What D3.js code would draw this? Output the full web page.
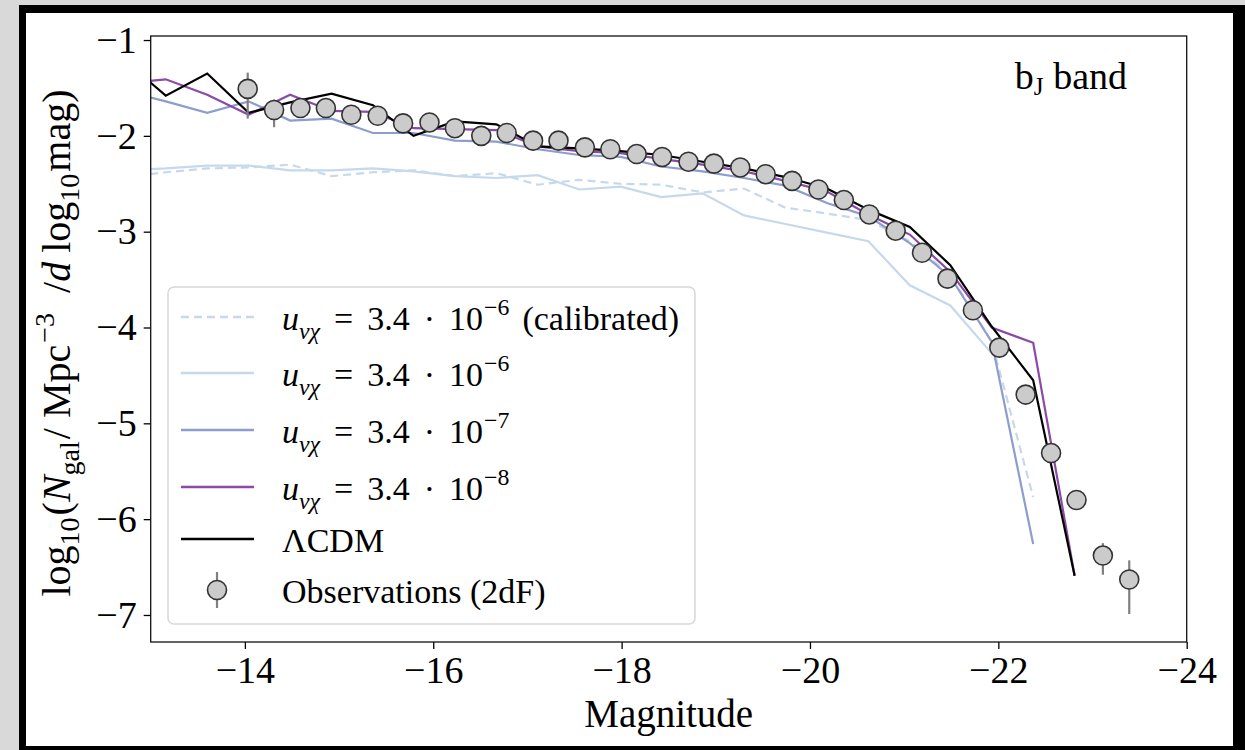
<!DOCTYPE html>
<html><head><meta charset="utf-8">
<script src="https://cdn.jsdelivr.net/npm/d3@7"></script>
<style>
body{margin:0;background:#d9d9d9;}
svg{display:block;}
text{font-family:"Liberation Serif","Times New Roman",serif;fill:#000;}
</style></head><body>
<svg id="chart" width="1245" height="750"></svg>
<script>
// ---- data ----
const modelMag = [-12.72, -13.16, -13.60, -14.04, -14.48, -14.92, -15.36, -15.79, -16.23, -16.67, -17.11, -17.55,
  -17.99, -18.42, -18.86, -19.30, -19.74, -20.18, -20.62, -21.06, -21.49, -21.93, -22.37, -22.81];
const lcdmVals = [-1.21, -1.58, -1.35, -1.76, -1.65, -1.56, -1.68, -2.00, -1.85, -1.88, -2.11, -2.13,
  -2.16, -2.20, -2.27, -2.34, -2.43, -2.55, -2.77, -2.95, -3.35, -3.99, -4.55, -6.59];
const u8Vals = [-1.45, -1.41, -1.57, -1.78, -1.57, -1.74, -1.75, -1.92, -1.93, -1.94, -2.11, -2.16,
  -2.18, -2.24, -2.30, -2.37, -2.47, -2.58, -2.82, -3.03, -3.42, -4.00, -4.16, -6.59];
const u7Vals = [-1.53, -1.64, -1.76, -1.64, -1.84, -1.82, -1.97, -1.97, -2.05, -2.06, -2.14, -2.20,
  -2.22, -2.32, -2.37, -2.44, -2.52, -2.70, -2.84, -3.12, -3.47, -4.15, -6.26];
const u6Vals = [-2.36, -2.34, -2.31, -2.31, -2.36, -2.36, -2.34, -2.37, -2.42, -2.44, -2.41, -2.56,
  -2.53, -2.64, -2.60, -2.83, -2.92, -3.01, -3.10, -3.56, -3.77, -4.27];
const u6CalVals = [-2.43, -2.38, -2.34, -2.33, -2.30, -2.42, -2.38, -2.36, -2.42, -2.39, -2.51, -2.46,
  -2.50, -2.51, -2.59, -2.55, -2.75, -2.81, -2.88, -3.10, -3.45, -4.15, -5.77];

const obsMag = [-14.03, -14.31, -14.59, -14.86, -15.13, -15.41, -15.68, -15.96, -16.23, -16.51, -16.78, -17.06,
  -17.33, -17.61, -17.88, -18.16, -18.43, -18.71, -18.98, -19.26, -19.53, -19.81, -20.09, -20.36, -20.63,
  -20.91, -21.19, -21.46, -21.73, -22.01, -22.29, -22.56, -22.83, -23.11, -23.39];
const obsVal = [-1.51, -1.73, -1.71, -1.71, -1.78, -1.79, -1.87, -1.86, -1.92, -2.00, -1.97, -2.05,
  -2.05, -2.12, -2.14, -2.19, -2.22, -2.27, -2.29, -2.33, -2.40, -2.47, -2.56, -2.67, -2.82,
  -2.99, -3.22, -3.49, -3.82, -4.21, -4.70, -5.31, -5.80, -6.38, -6.63];
const obsErrUp = [0.17, 0.11, 0.06, 0.05, 0.05, 0.04, 0.04, 0.04, 0.03, 0.03, 0.03, 0.03,
  0.03, 0.02, 0.02, 0.02, 0.02, 0.02, 0.02, 0.02, 0.02, 0.02, 0.02, 0.02, 0.02,
  0.02, 0.02, 0.02, 0.03, 0.03, 0.04, 0.06, 0.08, 0.13, 0.20];
const obsErrDown = [0.31, 0.18, 0.07, 0.06, 0.05, 0.05, 0.05, 0.04, 0.04, 0.04, 0.03, 0.03,
  0.03, 0.02, 0.02, 0.02, 0.02, 0.02, 0.02, 0.02, 0.02, 0.02, 0.02, 0.02, 0.02,
  0.02, 0.03, 0.03, 0.03, 0.04, 0.05, 0.08, 0.10, 0.20, 0.36];

const xTicks = [-14, -16, -18, -20, -22, -24];
const xTickLabels = ["−14", "−16", "−18", "−20", "−22", "−24"];
const yTicks = [-1, -2, -3, -4, -5, -6, -7];
const yTickLabels = ["−1", "−2", "−3", "−4", "−5", "−6", "−7"];
const seriesNames = ["u6cal", "u6", "u7", "u8", "lcdm"];
const seriesExp = ["−6", "−6", "−7", "−8"];

// ---- drawing ----
const svg = d3.select("#chart");
svg.append("rect").attr("width", 1245).attr("height", 750).attr("fill", "#d9d9d9");
svg.append("rect").attr("x", 19).attr("y", 5).attr("width", 1226).attr("height", 745).attr("fill", "#000");
svg.append("rect").attr("x", 26).attr("y", 13).attr("width", 1207).attr("height", 733).attr("fill", "#fff");

const P = {left: 150.7, right: 1186.7, top: 36, bottom: 642};
const x = d3.scaleLinear().domain([-13, -24]).range([P.left, P.right]);
const y = d3.scaleLinear().domain([-0.958, -7.282]).range([P.top, P.bottom]);

svg.append("clipPath").attr("id", "clip").append("rect")
  .attr("x", P.left).attr("y", P.top).attr("width", P.right - P.left).attr("height", P.bottom - P.top);

const styles = {
  u6cal: {color: "#c6d9ec", dash: "8,5", w: 2.2},
  u6: {color: "#c6d9ec", dash: null, w: 2.2},
  u7: {color: "#8d9dcd", dash: null, w: 2.2},
  u8: {color: "#8a4aa5", dash: null, w: 2.2},
  lcdm: {color: "#000000", dash: null, w: 2.2}
};
const seriesVals = {u6cal: u6CalVals, u6: u6Vals, u7: u7Vals, u8: u8Vals, lcdm: lcdmVals};

const line = d3.line().x(d => x(d[0])).y(d => y(d[1]));
const gLines = svg.append("g").attr("clip-path", "url(#clip)");
seriesNames.forEach(n => {
  const vals = seriesVals[n];
  const pts = vals.map((v, i) => [modelMag[i], v]);
  gLines.append("path").datum(pts).attr("d", line)
    .attr("fill", "none").attr("stroke", styles[n].color)
    .attr("stroke-width", styles[n].w)
    .attr("stroke-dasharray", styles[n].dash)
    .attr("stroke-linejoin", "miter");
});

// observations
const obs = obsMag.map((m, i) => ({m, v: obsVal[i], up: obsErrUp[i], dn: obsErrDown[i]}));
const gObs = svg.append("g");
gObs.selectAll("line.err").data(obs).join("line").attr("class", "err")
  .attr("x1", d => x(d.m)).attr("x2", d => x(d.m))
  .attr("y1", d => y(d.v + d.up)).attr("y2", d => y(d.v - d.dn))
  .attr("stroke", "#808080").attr("stroke-width", 2.2);
gObs.selectAll("circle").data(obs).join("circle")
  .attr("cx", d => x(d.m)).attr("cy", d => y(d.v)).attr("r", 9.5)
  .attr("fill", "#cbcbcb").attr("stroke", "#333").attr("stroke-width", 1.6);

// axes
const xAxis = d3.axisBottom(x).tickValues(xTicks).tickSize(7).tickPadding(7)
  .tickFormat((d, i) => xTickLabels[i]);
const yAxis = d3.axisLeft(y).tickValues(yTicks).tickSize(7).tickPadding(7)
  .tickFormat((d, i) => yTickLabels[i]);
const gx = svg.append("g").attr("transform", `translate(0,${P.bottom})`).call(xAxis);
const gy = svg.append("g").attr("transform", `translate(${P.left},0)`).call(yAxis);
[gx, gy].forEach(g => {
  g.select(".domain").remove();
  g.selectAll(".tick line").attr("stroke", "#000").attr("stroke-width", 1.3);
  g.selectAll(".tick text").style("font-family", '"Liberation Serif",serif').style("font-size", "38px").attr("fill", "#000");
});
svg.append("rect").attr("x", P.left).attr("y", P.top).attr("width", P.right - P.left).attr("height", P.bottom - P.top)
  .attr("fill", "none").attr("stroke", "#111").attr("stroke-width", 1.3);

// axis labels
svg.append("text").attr("x", (P.left + P.right) / 2).attr("y", 727).attr("text-anchor", "middle")
  .style("font-size", "39px").text("Magnitude");

function rich(t, parts, base) {
  parts.forEach(p => {
    const s = t.append("tspan").text(p.t);
    if (p.it) s.style("font-style", "italic");
    if (p.sub || p.sup) s.style("font-size", (base * 0.7) + "px");
    if (p.dy) s.attr("dy", p.dy);
    if (p.dx) s.attr("dx", p.dx);
  });
}
const yl = svg.append("text").attr("transform", "translate(70,343) rotate(-90)")
  .attr("text-anchor", "middle").style("font-size", "40px");
rich(yl, [
  {t: "log"}, {t: "10", sub: true, dy: 9}, {t: "(", dy: -9, dx: 2}, {t: "N", it: true},
  {t: "gal", sub: true, dy: 9}, {t: "/", dy: -9, dx: 2}, {t: "Mpc", dx: 10}, {t: "−3", sup: true, dy: -16, dx: 2},
  {t: "/", dy: 16, dx: 20}, {t: "d", it: true}, {t: "log", dx: 9}, {t: "10", sub: true, dy: 9}, {t: "mag)", dy: -9, dx: 2}
], 40);

// band label
const bl = svg.append("text").attr("x", 1127).attr("y", 89).attr("text-anchor", "end").style("font-size", "38px");
rich(bl, [{t: "b"}, {t: "J", sub: true, dy: 6}, {t: " band", dy: -6}], 36);

// legend
const lg = svg.append("g");
lg.append("rect").attr("x", 168).attr("y", 287).attr("width", 527).attr("height", 337).attr("rx", 6)
  .attr("fill", "#fff").attr("fill-opacity", 0.85).attr("stroke", "#d8d8d8").attr("stroke-width", 1.5);
const rowY = [317, 373, 430, 487, 539, 590];
seriesNames.forEach((n, i) => {
  lg.append("line").attr("x1", 181).attr("x2", 254).attr("y1", rowY[i]).attr("y2", rowY[i])
    .attr("stroke", styles[n].color).attr("stroke-width", 2.5).attr("stroke-dasharray", styles[n].dash);
  const t = lg.append("text").attr("x", 282).attr("y", rowY[i] + 13).style("font-size", "34px");
  if (n === "lcdm") {
    t.text("ΛCDM");
  } else {
    const parts = [{t: "u", it: true}, {t: "νχ", it: true, sub: true, dy: 9},
      {t: "=", dy: -9, dx: 14}, {t: "3.4", dx: 14}, {t: "·", dx: 14}, {t: "10", dx: 14},
      {t: seriesExp[i], sup: true, dy: -15, dx: 1}];
    if (n === "u6cal") parts.push({t: "(calibrated)", dy: 15, dx: 13});
    rich(t, parts, 34);
  }
});
// observation handle
lg.append("line").attr("x1", 217).attr("x2", 217).attr("y1", rowY[5] - 18).attr("y2", rowY[5] + 18)
  .attr("stroke", "#808080").attr("stroke-width", 2.2);
lg.append("circle").attr("cx", 217).attr("cy", rowY[5]).attr("r", 9.5)
  .attr("fill", "#cbcbcb").attr("stroke", "#333").attr("stroke-width", 1.6);
lg.append("text").attr("x", 282).attr("y", rowY[5] + 13).style("font-size", "34px").text("Observations (2dF)");
</script>
</body></html>
